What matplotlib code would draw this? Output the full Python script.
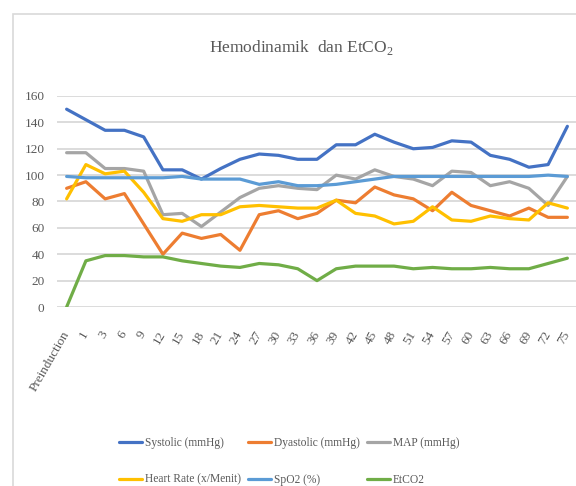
import matplotlib
matplotlib.use("Agg")
import matplotlib.pyplot as plt
from matplotlib.patches import Rectangle

plt.rcParams['font.family'] = ['Liberation Serif', 'DejaVu Serif']
plt.rcParams['mathtext.fontset'] = 'custom'
plt.rcParams['mathtext.rm'] = 'Liberation Serif'

# data
waktu = ['Preinduction', '1', '3', '6', '9', '12', '15', '18', '21', '24', '27',
         '30', '33', '36', '39', '42', '45', '48', '51', '54', '57', '60', '63',
         '66', '69', '72', '75']

sistolik = [150, 142, 134, 134, 129, 104, 104, 97, 105, 112, 116, 115, 112,
            112, 123, 123, 131, 125, 120, 121, 126, 125, 115, 112, 106, 108, 137]
diastolik = [90, 95, 82, 86, 63, 40, 56, 52, 55, 43, 70, 73, 67,
             71, 81, 79, 91, 85, 82, 73, 87, 77, 73, 69, 75, 68, 68]
map_ = [117, 117, 105, 105, 103, 70, 71, 61, 72, 83, 90, 92, 90,
        89, 100, 97, 104, 99, 97, 92, 103, 102, 92, 95, 90, 77, 99]
nadi = [82, 108, 101, 103, 87, 67, 65, 70, 70, 76, 77, 76, 75,
        75, 81, 71, 69, 63, 65, 76, 66, 65, 69, 67, 66, 79, 75]
spo2 = [99, 98, 98, 98, 98, 98, 99, 97, 97, 97, 93, 95, 92,
        92, 93, 95, 97, 99, 99, 99, 99, 99, 99, 99, 99, 100, 99]
etco2 = [0, 35, 39, 39, 38, 38, 35, 33, 31, 30, 33, 32, 29,
         20, 29, 31, 31, 31, 29, 30, 29, 29, 30, 29, 29, 33, 37]

series = [
    ('Systolic (mmHg)', sistolik, '#4472C4'),
    ('Dyastolic (mmHg)', diastolik, '#ED7D31'),
    ('MAP (mmHg)', map_, '#A5A5A5'),
    ('Heart Rate (x/Menit)', nadi, '#FFC000'),
    ('SpO2 (%)', spo2, '#5B9BD5'),
    ('EtCO2', etco2, '#70AD47'),
]

fig = plt.figure(figsize=(5.76, 4.86), dpi=100)
fig.patches.append(Rectangle((13 / 576, -0.1), 1.2, 1 - 14 / 486 + 0.1,
                             transform=fig.transFigure, fill=False,
                             edgecolor='#d9d9d9', linewidth=1.2))

ax = fig.add_axes([57 / 576, 1 - 307 / 486, 520 / 576, 211 / 486])
x = list(range(len(waktu)))
linhas = []
for nome, valores, cor in series:
    l, = ax.plot(x, valores, color=cor, linewidth=2.3, label=nome,
                 solid_joinstyle='round', solid_capstyle='round')
    linhas.append(l)

ax.set_xlim(-0.5, len(waktu) - 0.5)
ax.set_ylim(0, 160)
ax.set_yticks(range(0, 161, 20))
ax.set_xticks(x)
ax.set_xticklabels(waktu, rotation=60, ha='right', va='center',
                   rotation_mode='anchor')
ax.tick_params(axis='both', length=0, labelsize=9.5, colors='#595959')
ax.tick_params(axis='x', pad=18)
ax.tick_params(axis='y', pad=9)
ax.grid(axis='y', color='#d9d9d9', linewidth=1.3)
ax.set_axisbelow(True)
for s in ax.spines.values():
    s.set_visible(False)

fig.text(301 / 576, 1 - 47 / 486, r'Hemodinamik  dan EtCO$_{\mathrm{2}}$',
         ha='center', va='center', fontsize=12.5, color='#595959')

# ordem das colunas da legenda igual à do Excel
ordem = [0, 3, 1, 4, 2, 5]
fig.legend([linhas[i] for i in ordem], [series[i][0] for i in ordem],
           ncol=3, loc='upper left', bbox_to_anchor=(119 / 576, 1 - 437 / 486),
           frameon=False, fontsize=8.3, handlelength=2.0, handletextpad=0.25,
           columnspacing=0.6, labelspacing=2.15, borderpad=0, borderaxespad=0,
           labelcolor='#595959')

fig.savefig('out.png', dpi=100)
